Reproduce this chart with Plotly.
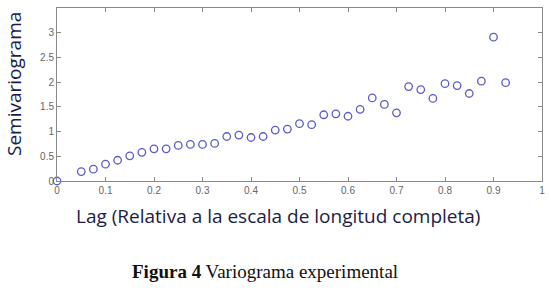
import plotly.graph_objects as go

lag = [0, 0.05, 0.075, 0.1, 0.125, 0.15, 0.175, 0.2, 0.225, 0.25, 0.275, 0.3,
       0.325, 0.35, 0.375, 0.4, 0.425, 0.45, 0.475, 0.5, 0.525, 0.55, 0.575,
       0.6, 0.625, 0.65, 0.675, 0.7, 0.725, 0.75, 0.775, 0.8, 0.825, 0.85,
       0.875, 0.9, 0.925]
semivar = [0.0, 0.19, 0.24, 0.34, 0.42, 0.51, 0.58, 0.65, 0.65, 0.72, 0.74, 0.74,
           0.76, 0.90, 0.93, 0.88, 0.90, 1.03, 1.05, 1.16, 1.14, 1.34, 1.36,
           1.31, 1.45, 1.68, 1.55, 1.38, 1.91, 1.85, 1.67, 1.97, 1.93, 1.77,
           2.02, 2.91, 1.99]
x_ticks = [0, 0.1, 0.2, 0.3, 0.4, 0.5, 0.6, 0.7, 0.8, 0.9, 1]
x_tick_labels = ["0", "0.1", "0.2", "0.3", "0.4", "0.5", "0.6", "0.7", "0.8", "0.9", "1"]
y_ticks = [0, 0.5, 1, 1.5, 2, 2.5, 3]
y_tick_labels = ["0", "0.5", "1", "1.5", "2", "2.5", "3"]

W, H = 551, 291
L, R, T, B = 57, 9, 8, 110
ph = H - T - B

def py(p):
    return (H - B - p) / ph

fig = go.Figure(go.Scatter(
    x=lag, y=semivar, mode="markers",
    marker=dict(symbol="circle-open", size=7.5, color="#5a5ac8", line=dict(width=1.3)),
    showlegend=False, cliponaxis=False))

axis_common = dict(showgrid=False, zeroline=False, showline=True, linecolor="#8a8a8a",
                   linewidth=1, mirror="ticks", ticks="inside", ticklen=4,
                   tickcolor="#8a8a8a", automargin=False,
                   tickfont=dict(family="Liberation Sans, Arial", size=10, color="#666666"))

fig.update_xaxes(range=[0, 1], tickvals=x_ticks, ticktext=x_tick_labels, **axis_common)
fig.update_yaxes(range=[0, 3.5], tickvals=y_ticks, ticktext=y_tick_labels, **axis_common)

fig.add_annotation(text="Lag (Relativa a la escala de longitud completa)",
                   xref="paper", yref="paper", x=(278 - L) / (W - L - R), y=py(216),
                   showarrow=False, xanchor="center", yanchor="middle",
                   font=dict(family="Open Sans", size=19, color="#1c1c48"))
fig.add_annotation(text="Semivariograma", textangle=-90,
                   xref="paper", yref="paper", x=(14 - L) / (W - L - R), y=py(84),
                   showarrow=False, xanchor="center", yanchor="middle",
                   font=dict(family="Open Sans", size=19, color="#1c1c48"))
fig.add_annotation(text="<b>Figura 4</b> Variograma experimental",
                   xref="paper", yref="paper", x=(265 - L) / (W - L - R), y=py(271),
                   showarrow=False, xanchor="center", yanchor="middle",
                   font=dict(family="Liberation Serif", size=19, color="#111111"))

fig.update_layout(width=W, height=H, margin=dict(l=L, r=R, t=T, b=B),
                  paper_bgcolor="white", plot_bgcolor="white")

fig.write_html("out.html", config={"displayModeBar": False},
               post_script="document.body.style.margin='0';")
